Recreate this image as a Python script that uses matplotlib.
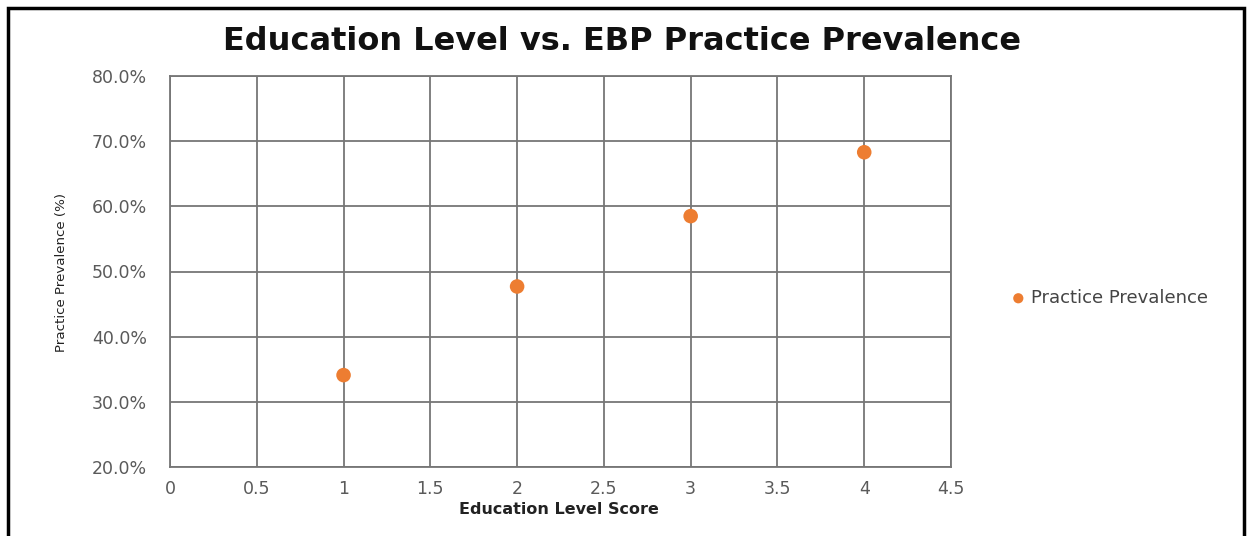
import matplotlib
matplotlib.use("Agg")
import matplotlib.pyplot as plt
from matplotlib.patches import Rectangle
from matplotlib.ticker import FuncFormatter, MultipleLocator

education_score = [1, 2, 3, 4]
practice_prevalence = [34.1, 47.7, 58.5, 68.3]
series_name = "Practice Prevalence"
title = "Education Level vs. EBP Practice Prevalence"
x_label = "Education Level Score"
y_label = "Practice Prevalence (%)"

plt.rcParams["font.family"] = ["DejaVu Sans"]

W, H = 1252, 536
fig = plt.figure(figsize=(W / 100, H / 100), dpi=100)
fig.patch.set_facecolor("white")

# outer frame
fig.patches.append(Rectangle((8 / W, -0.01), (1244 - 8) / W, (H - 8) / H + 0.01,
                             transform=fig.transFigure, fill=False,
                             edgecolor="black", linewidth=2.5))

left, right, top, bottom = 170, 951, 76, 467
ax = fig.add_axes([left / W, 1 - bottom / H, (right - left) / W, (bottom - top) / H])

grid_color = "#767676"
ax.set_xlim(0, 4.5)
ax.set_ylim(20, 80)
ax.xaxis.set_major_locator(MultipleLocator(0.5))
ax.yaxis.set_major_locator(MultipleLocator(10))
ax.xaxis.set_major_formatter(FuncFormatter(lambda v, p: f"{v:g}"))
ax.yaxis.set_major_formatter(FuncFormatter(lambda v, p: f"{v:.1f}%"))
ax.grid(True, color=grid_color, linewidth=1.3)
ax.set_axisbelow(True)
for s in ax.spines.values():
    s.set_color(grid_color)
    s.set_linewidth(1.3)
ax.tick_params(axis="both", length=0, labelsize=12.5, labelcolor="#5a5a5a")
ax.tick_params(axis="y", pad=16.5)
ax.tick_params(axis="x", pad=9.5)

ax.scatter(education_score, practice_prevalence, s=110, color="#ED7D31",
           zorder=3, label=series_name, edgecolors="none")

fig.text(559 / W, 1 - 510 / H, x_label, ha="center", va="center",
         fontsize=11.5, fontweight="bold", color="#222222")
fig.text(62 / W, 1 - 272 / H, y_label, ha="center", va="center", rotation=90,
         fontsize=9.6, color="#222222")

fig.text(622 / W, 1 - 41 / H, title, ha="center", va="center",
         fontsize=23, fontweight="bold", color="#111111")

# legend entry
fig.legend(handles=[ax.collections[0]], labels=[series_name],
           loc="center left", bbox_to_anchor=(984 / W, 1 - 298 / H),
           frameon=False, handletextpad=-0.3, markerscale=0.7,
           labelcolor="#444444", prop={"size": 13})

fig.savefig("out.png", dpi=100)
